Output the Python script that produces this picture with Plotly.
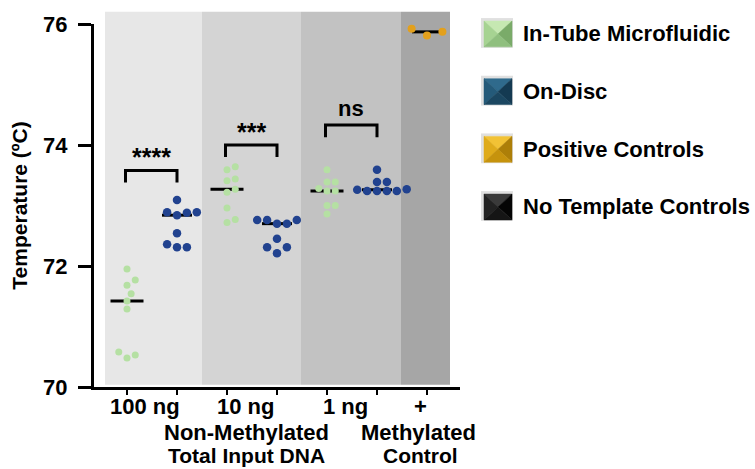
import numpy as np
import plotly.graph_objects as go

# ---------------- data ----------------
group_labels = ["100 ng", "10 ng", "1 ng", "+"]
group_titles = [["Non-Methylated", "Total Input DNA"], ["Methylated", "Control"]]
methods = ["In-Tube Microfluidic", "On-Disc", "Positive Controls", "No Template Controls"]

intube_100 = [71.95, 71.68, 71.77, 71.54, 71.42, 71.29, 70.48, 70.58, 70.53]
ondisc_100 = [73.09, 72.84, 72.89, 72.89, 72.88, 72.54, 72.31, 72.36, 72.31]
intube_10 = [73.59, 73.64, 73.44, 73.41, 73.27, 73.22, 72.96, 72.77, 72.72]
ondisc_10 = [72.70, 72.76, 72.76, 72.76, 72.70, 72.45, 72.21, 72.31, 72.31]
intube_1 = [73.59, 73.39, 73.39, 73.28, 73.24, 73.24, 73.00, 73.00, 72.86]
ondisc_1 = [73.59, 73.39, 73.39, 73.26, 73.27, 73.24, 73.24, 73.24, 73.24]
positive = [75.81, 75.92, 75.87]

sig_labels = ["****", "***", "ns"]
bracket_tops = [73.58, 74.00, 74.33]

y_ticks = [70, 72, 74, 76]

# ---------------- style ----------------
GREEN = "#b5e0a3"
BLUE = "#21428f"
ORANGE = "#e3a01c"
FONT = "Liberation Sans"

series = [
    (intube_100, 0, GREEN, 7),
    (ondisc_100, 1, BLUE, 8.5),
    (intube_10, 2, GREEN, 7),
    (ondisc_10, 3, BLUE, 8.5),
    (intube_1, 4, GREEN, 7),
    (ondisc_1, 5, BLUE, 8.5),
    (positive, 6, ORANGE, 8),
]

PX_X = 50.0      # px per x unit
PX_Y = 60.83     # px per y unit


def swarm(vals, diam):
    """simple beeswarm: returns x offsets (data units)"""
    order = np.argsort(vals)
    placed = []
    offs = np.zeros(len(vals))
    for i in order:
        yv = vals[i] * PX_Y
        k = 0
        while True:
            cands = [0.0] if k == 0 else [k * diam * 0.55, -k * diam * 0.55]
            ok_c = None
            for c in cands:
                if all((c - px) ** 2 + (yv - py) ** 2 >= diam ** 2 for px, py in placed):
                    ok_c = c
                    break
            if ok_c is not None:
                placed.append((ok_c, yv))
                offs[i] = ok_c / PX_X
                break
            k += 1
    return offs


fig = go.Figure()

# background bands
bands = [(-0.44, 1.50, "#e7e7e7"), (1.50, 3.48, "#d4d4d4"),
         (3.48, 5.48, "#c2c2c2"), (5.48, 6.46, "#a6a6a6")]
for x0, x1, c in bands:
    fig.add_shape(type="rect", xref="x", yref="paper", x0=x0, x1=x1, y0=0.006, y1=1.034,
                  fillcolor=c, line_width=0, layer="below")

# median lines
for vals, pos, col, sz in series:
    med = float(np.median(vals))
    hw = 0.33 if col == GREEN else 0.3
    fig.add_trace(go.Scatter(x=[pos - hw, pos + hw], y=[med, med], mode="lines",
                             line=dict(color="black", width=3), showlegend=False,
                             hoverinfo="skip"))

# points
for vals, pos, col, sz in series:
    d = sz + 0.5 if col != ORANGE else 14
    offs = swarm(np.array(vals), d)
    fig.add_trace(go.Scatter(x=pos + offs, y=vals, mode="markers",
                             marker=dict(color=col, size=sz, line_width=0),
                             showlegend=False))

# significance brackets
for i, (lab, top) in enumerate(zip(sig_labels, bracket_tops)):
    a, b = 2 * i - 0.03, 2 * i + 1 + 0.0
    fig.add_trace(go.Scatter(x=[a, a, b, b], y=[top - 0.2, top, top, top - 0.2],
                             mode="lines", line=dict(color="black", width=3),
                             showlegend=False, hoverinfo="skip"))
    fig.add_annotation(x=(a + b) / 2, y=top, text=f"<b>{lab}</b>", showarrow=False,
                       yanchor="bottom", yshift=(2 if lab == "ns" else -3),
                       font=dict(family=FONT, size=25 if lab != "ns" else 22, color="black"))

# x labels
centers = [0.5, 2.5, 4.5, 6.0]
for c, lab in zip(centers, group_labels):
    fig.add_annotation(x=c, y=0, xref="x", yref="paper", text=f"<b>{lab}</b>",
                       showarrow=False, yanchor="middle", yshift=-19, xshift=-7,
                       font=dict(family=FONT, size=22, color="black"))
for c, lines, xs in zip([2.5, 6.0], group_titles, [-6, -9]):
    for j, ln in enumerate(lines):
        fig.add_annotation(x=c, y=0, xref="x", yref="paper", text=f"<b>{ln}</b>",
                           showarrow=False, yanchor="middle", yshift=-45 - 23 * j,
                           xshift=xs + (2 if (c == 6.0 and j == 1) else 0),
                           font=dict(family=FONT, size=22 - j, color="black"))

# legend (custom, beveled squares)
W, H = 755.0, 469.0
L, R, T, B = 94, 295, 22, 82
pw, ph = W - L - R, H - T - B


def px2paper(x, y):
    return (x - L) / pw, (H - B - y) / ph


leg_cols = [
    ("#c6e8b2", "#a6d392", "#7aab69", "#8fbf7e"),
    ("#2f6a8c", "#245a79", "#143a52", "#1b4761"),
    ("#f2c235", "#dfab1a", "#ad7f08", "#c6930d"),
    ("#3a3a3a", "#222222", "#050505", "#151515"),
]
leg_y = [32, 90, 148, 206]
for (ct, cl, cr, cb), yc, lab in zip(leg_cols, leg_y, methods):
    x0, x1 = 484, 512
    y0, y1 = yc - 13, yc + 13
    xm, ym = (x0 + x1) / 2, yc
    # shadow
    sx0, sy0 = px2paper(x0 - 3, y0 - 3)
    sx1, sy1 = px2paper(x1 + 1, y1 + 1)
    fig.add_shape(type="rect", xref="paper", yref="paper", x0=sx0, x1=sx1, y0=sy1, y1=sy0,
                  fillcolor="rgba(0,0,0,0.12)", line_width=0)
    tris = [
        ([(x0, y0), (x1, y0), (xm, ym)], ct),
        ([(x0, y0), (x0, y1), (xm, ym)], cl),
        ([(x1, y0), (x1, y1), (xm, ym)], cr),
        ([(x0, y1), (x1, y1), (xm, ym)], cb),
    ]
    for pts, c in tris:
        pp = [px2paper(*p) for p in pts]
        path = "M " + " L ".join(f"{a:.5f},{b:.5f}" for a, b in pp) + " Z"
        fig.add_shape(type="path", xref="paper", yref="paper", path=path,
                      fillcolor=c, line=dict(color=c, width=0.5))
    tx, ty = px2paper(521, yc)
    fig.add_annotation(x=tx, y=ty, xref="paper", yref="paper", text=f"<b>{lab}</b>",
                       showarrow=False, xanchor="left", yanchor="middle",
                       font=dict(family=FONT, size=22, color="black"))

fig.update_layout(
    width=755, height=469,
    margin=dict(l=L, r=R, t=T, b=B),
    paper_bgcolor="white", plot_bgcolor="white",
    showlegend=False,
    xaxis=dict(range=[-0.66, 6.66], showgrid=False, zeroline=False,
               showline=True, linecolor="black", linewidth=3,
               tickmode="array", tickvals=list(range(7)), ticktext=[""] * 7,
               ticks="outside", ticklen=5, tickwidth=2, tickcolor="black"),
    yaxis=dict(range=[70, 76], showgrid=False, zeroline=False,
               showline=True, linecolor="black", linewidth=3,
               tickmode="array", tickvals=y_ticks,
               ticktext=[f"<b>{v}</b>" for v in y_ticks],
               ticks="outside", ticklen=13, tickwidth=3, tickcolor="black",
               ticklabelstandoff=6,
               tickfont=dict(family=FONT, size=22, color="black"),
               title=dict(text="<b>Temperature (ºC)</b>", standoff=10,
                          font=dict(family=FONT, size=21, color="black"))),
)

fig.write_html("out.html")
